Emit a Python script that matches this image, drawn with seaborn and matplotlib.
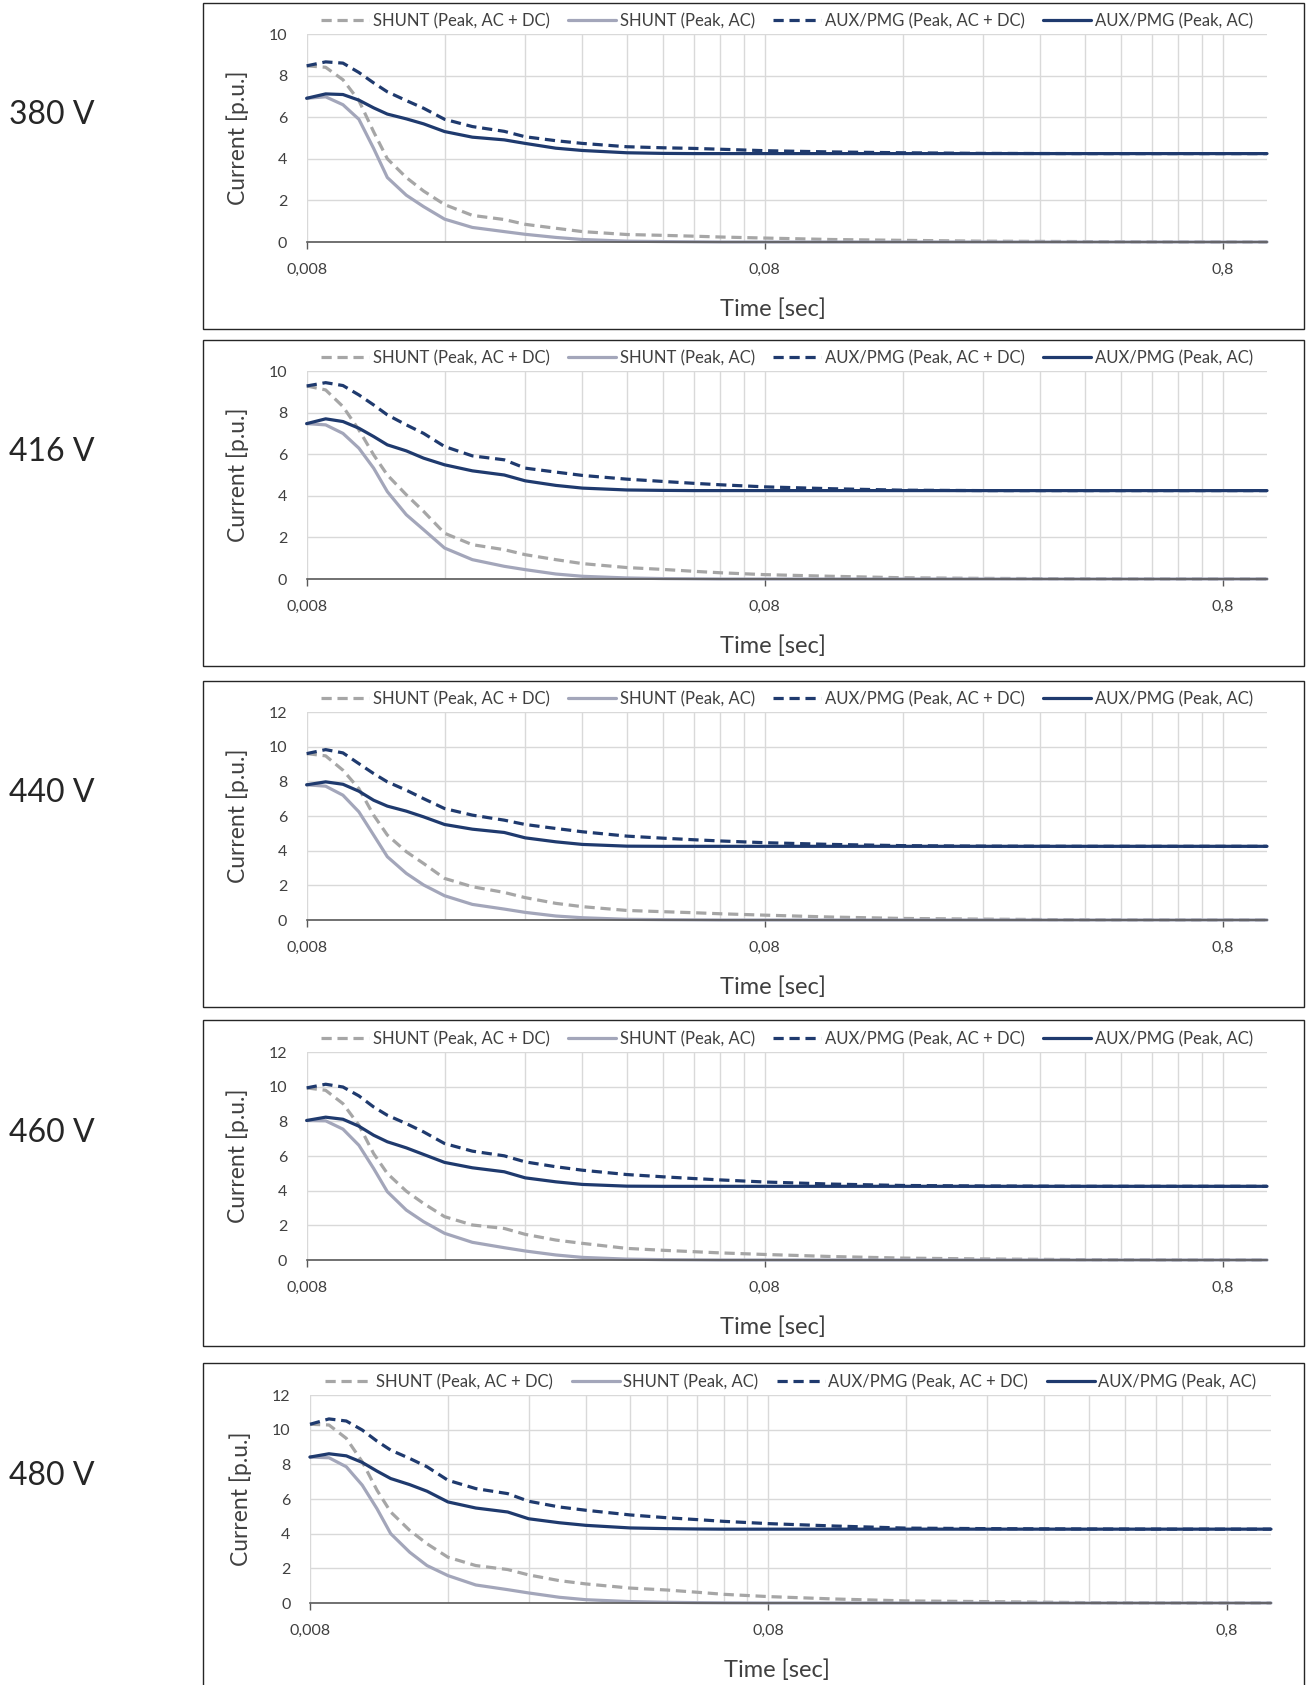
import numpy as np
import pandas as pd
import seaborn as sns
import matplotlib.pyplot as plt
from matplotlib.ticker import FixedLocator, FixedFormatter, NullFormatter
from matplotlib.patches import Rectangle

# ---------------- data ----------------
time_s = [0.008, 0.0088, 0.0096, 0.0104, 0.0112, 0.012, 0.0132, 0.0144, 0.016,
          0.0184, 0.0216, 0.024, 0.028, 0.032, 0.04, 0.048, 0.056, 0.064, 0.08,
          0.112, 0.16, 0.24, 0.4, 0.64, 1.0]

series_names = ["SHUNT (Peak, AC + DC)", "SHUNT (Peak, AC)",
                "AUX/PMG (Peak, AC + DC)", "AUX/PMG (Peak, AC)"]
voltage_labels = ["380 V", "416 V", "440 V", "460 V", "480 V"]
y_max = [10, 10, 12, 12, 12]
x_major_ticks = [0.008, 0.08, 0.8]
x_major_labels = ["0,008", "0,08", "0,8"]

shunt_dc_380 = [8.47, 8.40, 7.80, 6.80, 5.30, 4.00, 3.10, 2.45, 1.80, 1.28, 1.08, 0.85, 0.66,
                0.50, 0.36, 0.32, 0.28, 0.24, 0.19, 0.12, 0.08, 0.04, 0.02, 0.0, 0.0]
shunt_ac_380 = [6.91, 6.98, 6.60, 5.90, 4.50, 3.10, 2.25, 1.70, 1.10, 0.70, 0.50, 0.37, 0.22,
                0.12, 0.04, 0.02, 0.01, 0.0, 0.0, 0.0, 0.0, 0.0, 0.0, 0.0, 0.0]
aux_dc_380 = [8.47, 8.66, 8.60, 8.15, 7.65, 7.22, 6.80, 6.43, 5.90, 5.55, 5.32, 5.06, 4.87,
              4.74, 4.58, 4.53, 4.50, 4.46, 4.39, 4.33, 4.29, 4.26, 4.25, 4.25, 4.25]
aux_ac_380 = [6.91, 7.12, 7.09, 6.82, 6.45, 6.15, 5.92, 5.68, 5.31, 5.04, 4.91, 4.74, 4.51,
              4.40, 4.29, 4.26, 4.25, 4.25, 4.25, 4.25, 4.25, 4.25, 4.25, 4.25, 4.25]

shunt_dc_416 = [9.28, 9.09, 8.29, 7.17, 5.97, 5.00, 4.05, 3.25, 2.20, 1.65, 1.41, 1.17, 0.93,
                0.74, 0.55, 0.46, 0.37, 0.30, 0.21, 0.13, 0.06, 0.03, 0.01, 0.0, 0.0]
shunt_ac_416 = [7.47, 7.41, 7.00, 6.29, 5.33, 4.20, 3.09, 2.37, 1.49, 0.93, 0.61, 0.45, 0.24,
                0.13, 0.05, 0.02, 0.01, 0.0, 0.0, 0.0, 0.0, 0.0, 0.0, 0.0, 0.0]
aux_dc_416 = [9.28, 9.44, 9.30, 8.85, 8.37, 7.89, 7.41, 7.00, 6.37, 5.92, 5.73, 5.33, 5.14,
              4.98, 4.80, 4.69, 4.60, 4.53, 4.43, 4.34, 4.27, 4.25, 4.25, 4.25, 4.25]
aux_ac_416 = [7.47, 7.70, 7.57, 7.25, 6.85, 6.45, 6.16, 5.81, 5.49, 5.20, 5.00, 4.72, 4.50,
              4.37, 4.28, 4.26, 4.25, 4.25, 4.25, 4.25, 4.25, 4.25, 4.25, 4.25, 4.25]

shunt_dc_440 = [9.60, 9.47, 8.64, 7.58, 6.05, 4.90, 3.94, 3.26, 2.40, 1.92, 1.59, 1.29, 0.96,
                0.77, 0.55, 0.48, 0.42, 0.36, 0.28, 0.17, 0.09, 0.05, 0.01, 0.0, 0.0]
shunt_ac_440 = [7.80, 7.72, 7.20, 6.24, 4.90, 3.65, 2.69, 2.02, 1.40, 0.90, 0.63, 0.44, 0.23,
                0.13, 0.04, 0.02, 0.01, 0.0, 0.0, 0.0, 0.0, 0.0, 0.0, 0.0, 0.0]
aux_dc_440 = [9.60, 9.83, 9.64, 9.02, 8.45, 7.97, 7.49, 7.00, 6.43, 6.05, 5.76, 5.51, 5.28,
              5.09, 4.84, 4.72, 4.63, 4.56, 4.46, 4.36, 4.29, 4.26, 4.25, 4.25, 4.25]
aux_ac_440 = [7.80, 7.97, 7.83, 7.43, 6.91, 6.57, 6.28, 5.95, 5.51, 5.24, 5.05, 4.74, 4.51,
              4.36, 4.26, 4.25, 4.25, 4.25, 4.25, 4.25, 4.25, 4.25, 4.25, 4.25, 4.25]

shunt_dc_460 = [9.93, 9.79, 9.02, 7.78, 6.14, 4.99, 3.97, 3.26, 2.50, 2.02, 1.82, 1.48, 1.15,
                0.96, 0.67, 0.56, 0.48, 0.41, 0.32, 0.20, 0.11, 0.06, 0.02, 0.0, 0.0]
shunt_ac_460 = [8.05, 8.03, 7.55, 6.62, 5.28, 3.94, 2.88, 2.21, 1.54, 1.02, 0.71, 0.52, 0.29,
                0.15, 0.05, 0.02, 0.01, 0.0, 0.0, 0.0, 0.0, 0.0, 0.0, 0.0, 0.0]
aux_dc_460 = [9.93, 10.14, 9.98, 9.47, 8.83, 8.35, 7.87, 7.39, 6.72, 6.28, 6.01, 5.66, 5.38,
              5.18, 4.93, 4.80, 4.70, 4.62, 4.50, 4.38, 4.30, 4.27, 4.25, 4.25, 4.25]
aux_ac_460 = [8.05, 8.24, 8.12, 7.72, 7.20, 6.82, 6.47, 6.09, 5.63, 5.32, 5.09, 4.74, 4.51,
              4.36, 4.26, 4.25, 4.25, 4.25, 4.25, 4.25, 4.25, 4.25, 4.25, 4.25, 4.25]

shunt_dc_480 = [10.31, 10.27, 9.50, 8.15, 6.51, 5.25, 4.19, 3.42, 2.64, 2.16, 1.93, 1.62, 1.29,
                1.10, 0.86, 0.75, 0.62, 0.50, 0.37, 0.23, 0.12, 0.08, 0.02, 0.0, 0.0]
shunt_ac_480 = [8.42, 8.38, 7.86, 6.80, 5.44, 4.00, 2.93, 2.16, 1.58, 1.04, 0.77, 0.58, 0.33,
                0.19, 0.08, 0.04, 0.02, 0.01, 0.0, 0.0, 0.0, 0.0, 0.0, 0.0, 0.0]
aux_dc_480 = [10.31, 10.62, 10.50, 9.98, 9.34, 8.82, 8.34, 7.86, 7.08, 6.60, 6.31, 5.87, 5.54,
              5.35, 5.08, 4.92, 4.81, 4.71, 4.58, 4.44, 4.32, 4.29, 4.27, 4.26, 4.26]
aux_ac_480 = [8.42, 8.61, 8.49, 8.11, 7.61, 7.18, 6.83, 6.45, 5.83, 5.48, 5.25, 4.86, 4.63,
              4.48, 4.33, 4.29, 4.27, 4.26, 4.26, 4.26, 4.26, 4.26, 4.26, 4.26, 4.26]

panels = [
    [shunt_dc_380, shunt_ac_380, aux_dc_380, aux_ac_380],
    [shunt_dc_416, shunt_ac_416, aux_dc_416, aux_ac_416],
    [shunt_dc_440, shunt_ac_440, aux_dc_440, aux_ac_440],
    [shunt_dc_460, shunt_ac_460, aux_dc_460, aux_ac_460],
    [shunt_dc_480, shunt_ac_480, aux_dc_480, aux_ac_480],
]

# ---------------- style ----------------
sns.set_theme(style="white")
plt.rcParams["font.family"] = ["Lato", "DejaVu Sans"]

palette = {series_names[0]: "#A6A6A6", series_names[1]: "#A3A6BA",
           series_names[2]: "#1F3A6E", series_names[3]: "#1F3A6E"}
dash_map = {series_names[0]: (3.2, 1.8), series_names[1]: "",
            series_names[2]: (3.2, 1.8), series_names[3]: ""}

W, H = 1309, 1685
fig = plt.figure(figsize=(W / 100, H / 100), dpi=100)

axes_top = [34, 371, 712, 1052, 1395]
axes_left = [306.7, 306.7, 306.7, 306.7, 310]
axes_right = [1267, 1267, 1267, 1267, 1271]
axes_h = 208
frame_top = [3, 340, 681, 1020, 1363]
frame_h = 326
text_col = "#404040"

minor_ticks = [0.008 * k for k in range(2, 10)] + [0.08 * k for k in range(2, 10)]

for i in range(5):
    l, r, t = axes_left[i], axes_right[i], axes_top[i]
    ax = fig.add_axes([l / W, 1 - (t + axes_h) / H, (r - l) / W, axes_h / H])
    rows = []
    for name, vals in zip(series_names, panels[i]):
        for tt, v in zip(time_s, vals):
            rows.append({"time": tt, "current": v, "series": name})
    df = pd.DataFrame(rows)
    sns.lineplot(data=df, x="time", y="current", hue="series", style="series",
                 hue_order=series_names, style_order=series_names,
                 palette=palette, dashes=dash_map, linewidth=2.3,
                 estimator=None, sort=False, ax=ax)
    for ln in ax.lines:
        ln.set_clip_on(False)
        ln.set_solid_joinstyle("round")
        ln.set_dash_joinstyle("round")
    ax.set_xscale("log")
    ax.set_xlim(0.008, 1.0)
    ax.set_ylim(0, y_max[i])
    ax.set_yticks(np.arange(0, y_max[i] + 1, 2))
    ax.xaxis.set_major_locator(FixedLocator(x_major_ticks))
    ax.xaxis.set_major_formatter(FixedFormatter(x_major_labels))
    ax.xaxis.set_minor_locator(FixedLocator(minor_ticks))
    ax.xaxis.set_minor_formatter(NullFormatter())
    ax.set_axisbelow(True)
    ax.grid(which="both", axis="x", color="#D9D9D9", linewidth=1)
    ax.grid(which="major", axis="y", color="#D9D9D9", linewidth=1)
    for s in ["top", "right", "left"]:
        ax.spines[s].set_visible(False)
    ax.spines["bottom"].set_color("#595959")
    ax.spines["bottom"].set_linewidth(1.2)
    ax.tick_params(axis="x", which="major", bottom=True, length=5, width=1,
                   color="#595959", pad=10, labelsize=11.5, labelcolor=text_col)
    ax.tick_params(axis="x", which="minor", length=0)
    ax.tick_params(axis="y", length=0, pad=14, labelsize=11.5, labelcolor=text_col)
    ax.set_xlabel("Time [sec]", fontsize=17, color=text_col)
    ax.set_ylabel("Current [p.u.]", fontsize=16.5, color=text_col)
    ax.xaxis.set_label_coords(0.486, -56 / axes_h)
    ax.yaxis.set_label_coords(-58 / (r - l), 0.5)
    sns.move_legend(ax, "center", bbox_to_anchor=(0.5, 1 + 13 / axes_h), ncol=4,
                    frameon=False, title=None, fontsize=12, handlelength=2.9,
                    handletextpad=0.2, columnspacing=1.1, labelcolor=text_col)

    fig.add_artist(Rectangle((203 / W, 1 - (frame_top[i] + frame_h) / H),
                             (1304 - 203) / W, frame_h / H, transform=fig.transFigure,
                             fill=False, edgecolor="#262626", linewidth=1))
    fig.text(9 / W, 1 - (t + 81) / H, voltage_labels[i], fontsize=23,
             ha="left", va="center", color="#262626")

fig.savefig("out.png", dpi=100, facecolor="white")
